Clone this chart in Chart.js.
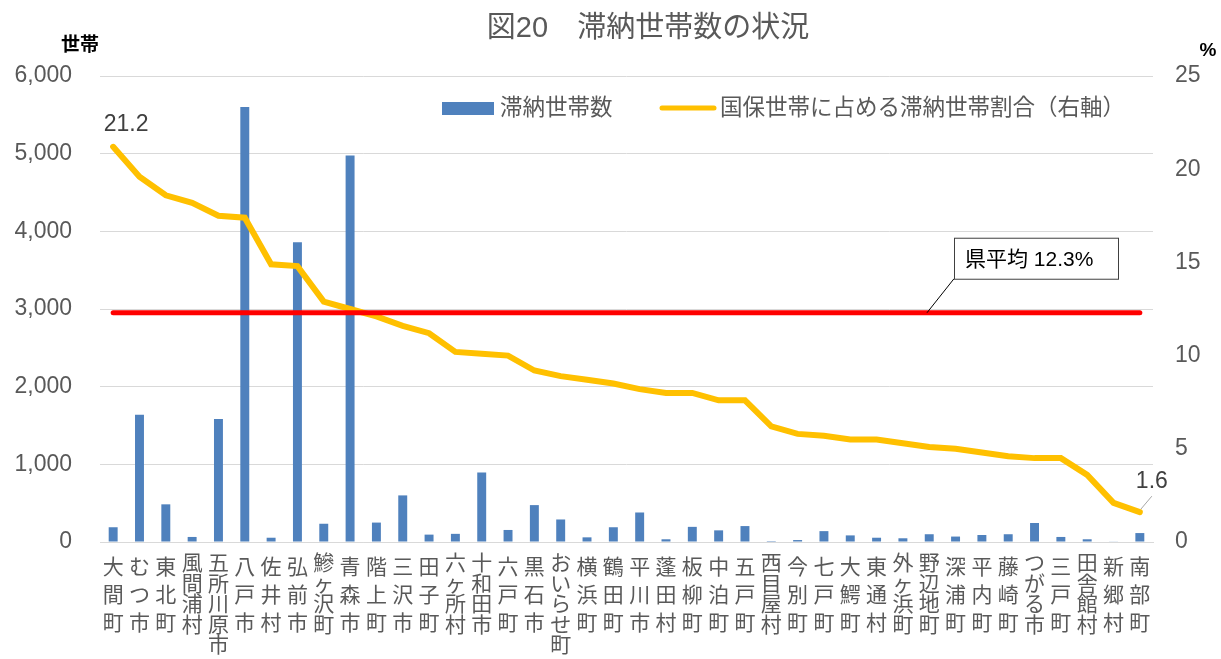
<!DOCTYPE html>
<html>
<head>
<meta charset="utf-8">
<script src="https://cdn.jsdelivr.net/npm/chart.js@4/dist/chart.umd.min.js"></script>
<style>
  html, body { margin: 0; padding: 0; background: #fff; }
  #wrap { width: 1221px; height: 659px; }
</style>
</head>
<body>
<div id="wrap"><canvas id="chart" width="1221" height="659"></canvas></div>
<script>
const FONT = "'Liberation Sans', 'Noto Sans CJK JP', sans-serif";

const chartTitle = "図20　滞納世帯数の状況";
const categories = ["大間町", "むつ市", "東北町", "風間浦村", "五所川原市", "八戸市", "佐井村", "弘前市", "鰺ヶ沢町", "青森市",
  "階上町", "三沢市", "田子町", "六ヶ所村", "十和田市", "六戸町", "黒石市", "おいらせ町", "横浜町", "鶴田町",
  "平川市", "蓬田村", "板柳町", "中泊町", "五戸町", "西目屋村", "今別町", "七戸町", "大鰐町", "東通村",
  "外ヶ浜町", "野辺地町", "深浦町", "平内町", "藤崎町", "つがる市", "三戸町", "田舎館村", "新郷村", "南部町"];
const households = [190, 1640, 485, 65, 1585, 5600, 55, 3860, 235, 4975,
  250, 600, 95, 105, 895, 155, 475, 290, 60, 190,
  380, 35, 195, 150, 205, 12, 25, 140, 85, 55,
  48, 100, 70, 90, 100, 245, 65, 35, 5, 115];
const rate = [21.2, 19.6, 18.6, 18.2, 17.5, 17.4, 14.9, 14.8, 12.9, 12.5,
  12.1, 11.6, 11.2, 10.2, 10.1, 10.0, 9.2, 8.9, 8.7, 8.5,
  8.2, 8.0, 8.0, 7.6, 7.6, 6.2, 5.8, 5.7, 5.5, 5.5,
  5.3, 5.1, 5.0, 4.8, 4.6, 4.5, 4.5, 3.6, 2.1, 1.6];
const prefAvg = 12.3;
const leftTicks = [0, 1000, 2000, 3000, 4000, 5000, 6000];
const rightTicks = [0, 5, 10, 15, 20, 25];

const barLabel = "滞納世帯数";
const lineLabel = "国保世帯に占める滞納世帯割合（右軸）";
const avgLabel = "県平均 12.3%";

// titles, unit labels, legend, data labels, average callout
const extras = {
  id: "extras",
  afterDraw(chart) {
    const { ctx, scales } = chart;
    ctx.save();
    ctx.textBaseline = "middle";

    ctx.fillStyle = "#595959";
    ctx.font = "29px " + FONT;
    ctx.textAlign = "center";
    ctx.fillText(chartTitle, 648, 29);

    ctx.fillStyle = "#000";
    ctx.font = "bold 19px " + FONT;
    ctx.fillText("世帯", 80, 46);
    ctx.fillText("%", 1208, 51);

    // legend
    ctx.textAlign = "left";
    ctx.font = "22.5px " + FONT;
    ctx.fillStyle = "#4f81bd";
    ctx.fillRect(442, 102, 52, 13);
    ctx.fillStyle = "#595959";
    ctx.fillText(barLabel, 500, 109);
    ctx.strokeStyle = "#ffc000";
    ctx.lineWidth = 5;
    ctx.lineCap = "round";
    ctx.beginPath();
    ctx.moveTo(662, 108);
    ctx.lineTo(714, 108);
    ctx.stroke();
    ctx.fillText(lineLabel, 720, 109);

    // first / last data labels
    const pts = chart.getDatasetMeta(1).data;
    const p0 = pts[0], pN = pts[pts.length - 1];
    ctx.fillStyle = "#404040";
    ctx.font = "23px " + FONT;
    ctx.textAlign = "center";
    ctx.fillText(rate[0].toFixed(1), p0.x + 13, p0.y - 22);
    ctx.fillText(rate[rate.length - 1].toFixed(1), pN.x + 12, pN.y - 31);
    ctx.strokeStyle = "#a6a6a6";
    ctx.lineWidth = 1;
    ctx.lineCap = "butt";
    ctx.beginPath();
    ctx.moveTo(pN.x + 1, pN.y - 3);
    ctx.lineTo(pN.x + 12, pN.y - 16);
    ctx.stroke();

    // average callout
    const yAvg = scales.y1.getPixelForValue(prefAvg);
    ctx.strokeStyle = "#000";
    ctx.beginPath();
    ctx.moveTo(927, yAvg);
    ctx.lineTo(954, yAvg - 34);
    ctx.stroke();
    ctx.fillStyle = "#fff";
    ctx.fillRect(954, yAvg - 75, 164, 41);
    ctx.strokeStyle = "#404040";
    ctx.strokeRect(954.5, yAvg - 74.5, 164, 41);
    ctx.fillStyle = "#000";
    ctx.font = "21px " + FONT;
    ctx.textAlign = "left";
    ctx.fillText(avgLabel, 965, yAvg - 53);
    ctx.restore();
  }
};

new Chart(document.getElementById("chart"), {
  data: {
    labels: categories.map((c) => Array.from(c)),
    datasets: [
      {
        type: "bar",
        label: barLabel,
        data: households,
        backgroundColor: "#4f81bd",
        yAxisID: "y",
        categoryPercentage: 1,
        barPercentage: 0.34,
        order: 3,
      },
      {
        type: "line",
        label: lineLabel,
        data: rate,
        borderColor: "#ffc000",
        borderWidth: 6,
        borderCapStyle: "round",
        pointRadius: 0,
        tension: 0,
        yAxisID: "y1",
        order: 2,
      },
      {
        type: "line",
        label: "県平均",
        data: categories.map(() => prefAvg),
        borderColor: "#ff0000",
        borderWidth: 5,
        borderCapStyle: "round",
        pointRadius: 0,
        yAxisID: "y1",
        order: 1,
      },
    ],
  },
  options: {
    responsive: false,
    animation: false,
    layout: { padding: { top: 76, left: 0, right: 0, bottom: 0 } },
    plugins: { legend: { display: false }, title: { display: false }, tooltip: { enabled: false } },
    scales: {
      x: {
        grid: { display: false, drawTicks: false },
        border: { display: true, color: "#d9d9d9" },
        ticks: {
          autoSkip: false,
          maxRotation: 0,
          minRotation: 0,
          padding: 12,
          color: "#595959",
          // short names are spread out, longer names packed tighter
          font: (ctx) => ({
            family: FONT,
            size: 21,
            lineHeight: categories[ctx.index] && categories[ctx.index].length > 3 ? "20.5px" : "28px",
          }),
        },
        afterFit: (s) => { s.height = 117; },
      },
      y: {
        position: "left",
        min: leftTicks[0],
        max: leftTicks[leftTicks.length - 1],
        afterBuildTicks: (s) => { s.ticks = leftTicks.map((v) => ({ value: v })); },
        grid: { color: "#d9d9d9", lineWidth: 1, drawTicks: false },
        border: { display: false },
        ticks: {
          padding: 28,
          color: "#595959",
          font: { family: FONT, size: 23 },
          callback: (v) => v.toLocaleString("en-US"),
        },
        afterFit: (s) => { s.width = 100; },
      },
      y1: {
        position: "right",
        min: rightTicks[0],
        max: rightTicks[rightTicks.length - 1],
        afterBuildTicks: (s) => { s.ticks = rightTicks.map((v) => ({ value: v })); },
        grid: { display: false, drawTicks: false },
        border: { display: false },
        ticks: {
          padding: 22,
          color: "#595959",
          font: { family: FONT, size: 23 },
        },
        afterFit: (s) => { s.width = 68; },
      },
    },
  },
  plugins: [extras],
});
</script>
</body>
</html>
